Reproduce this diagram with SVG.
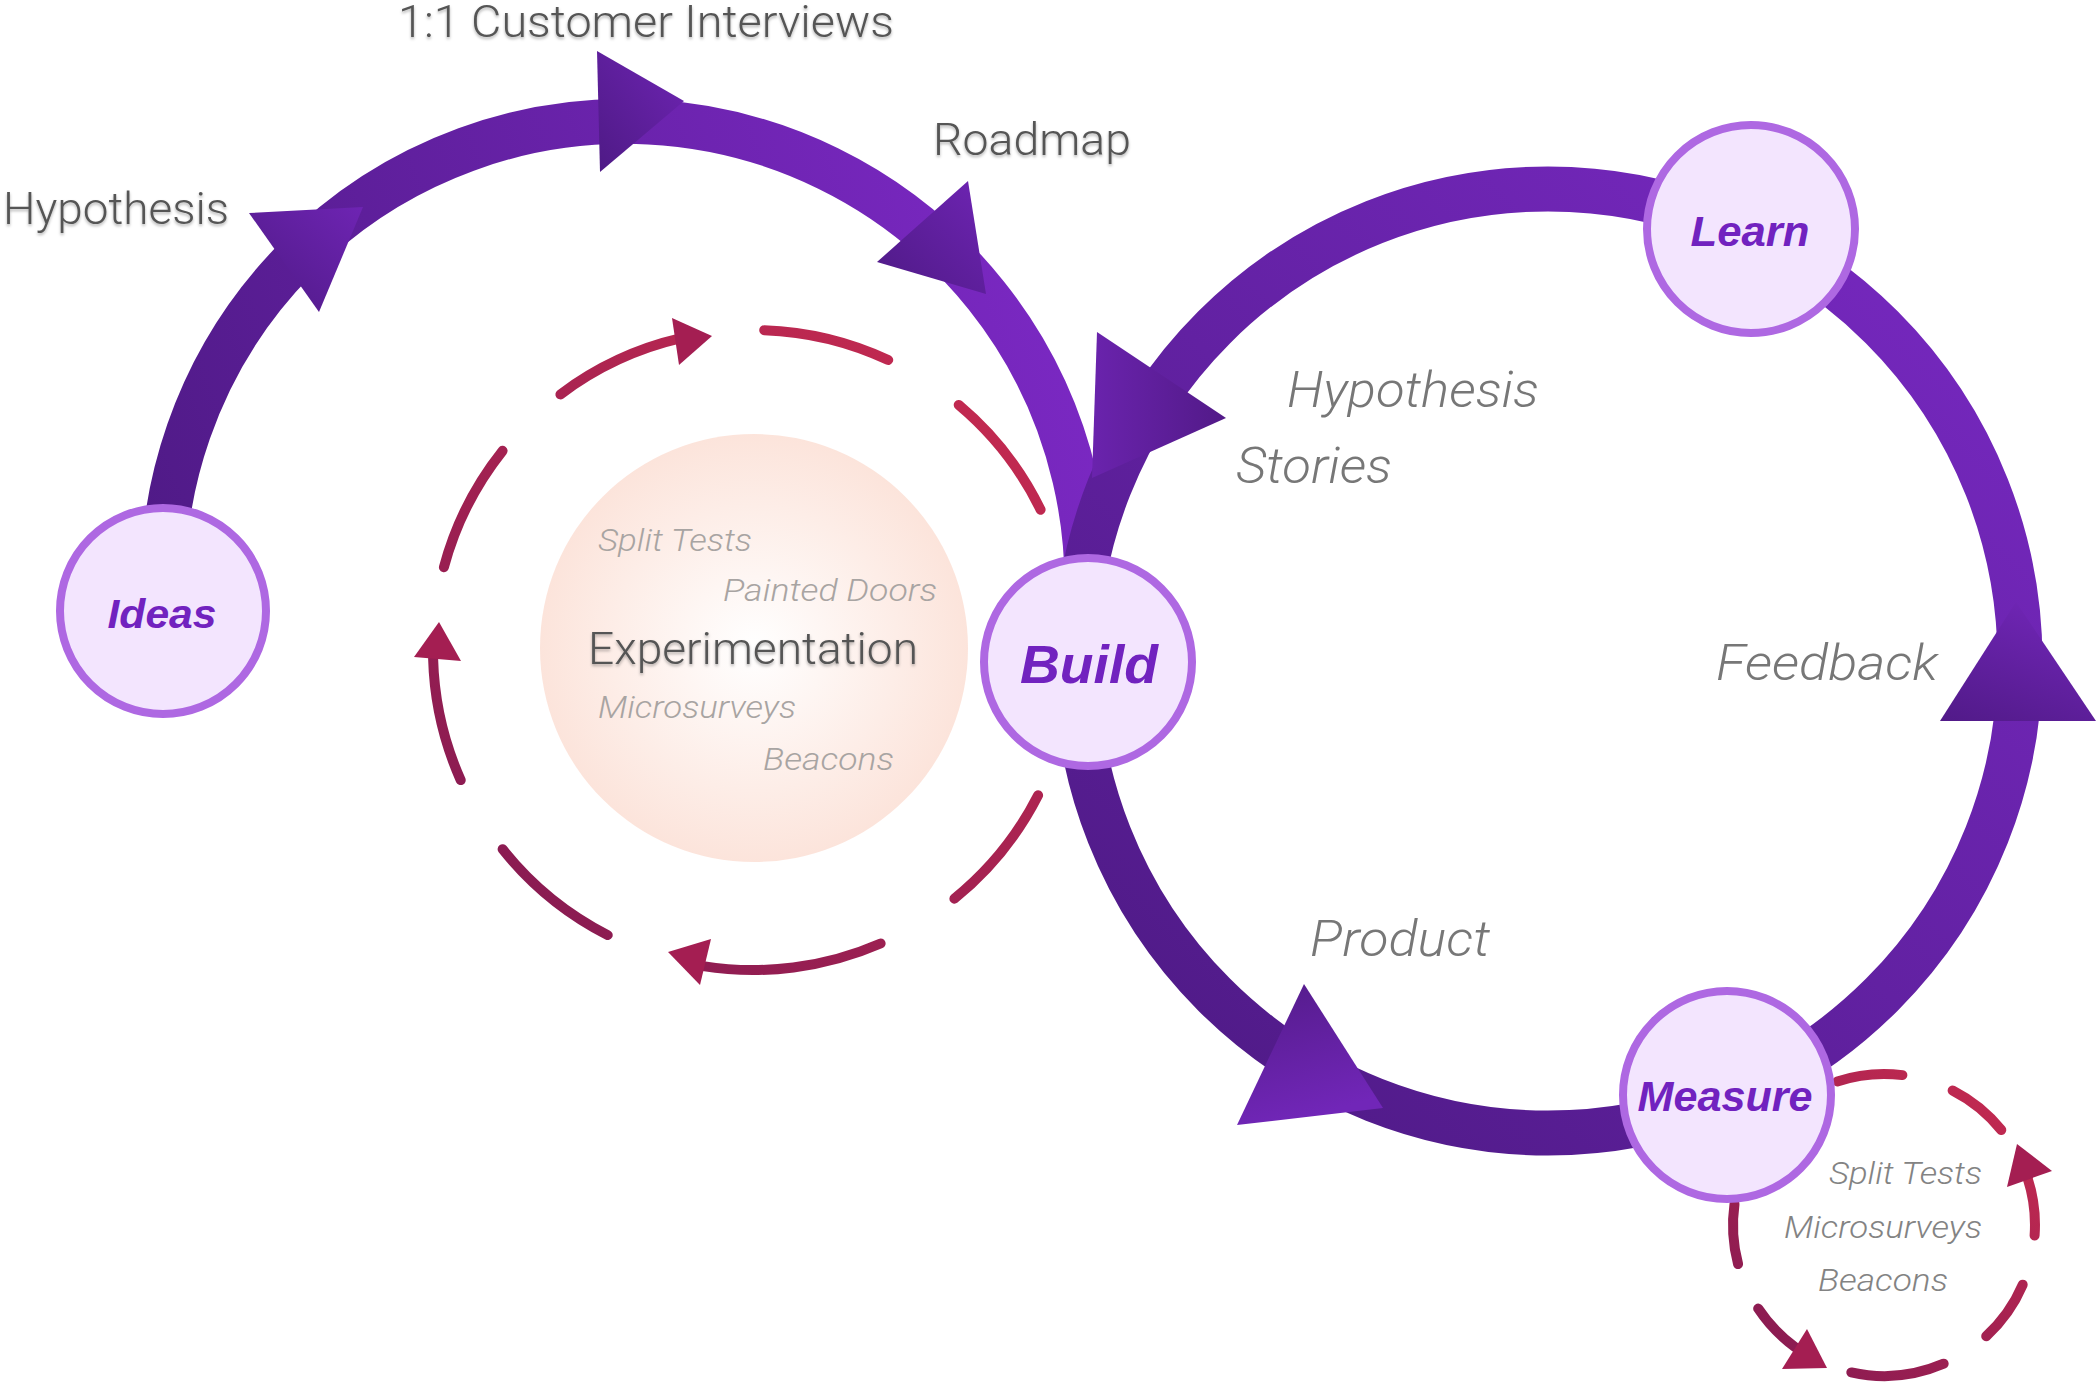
<svg xmlns="http://www.w3.org/2000/svg" width="2098" height="1390" viewBox="0 0 2098 1390">
<defs>
<style>
.lbl{font-family:Roboto,"Liberation Sans",Arial,sans-serif;font-weight:300;fill:#555555;font-size:44px}
.it{font-family:Roboto,"Liberation Sans",Arial,sans-serif;font-weight:300;font-style:italic;fill:#777777;font-size:50px}
.sm{font-family:Roboto,"Liberation Sans",Arial,sans-serif;font-weight:300;font-style:italic;fill:#a8a4a2;font-size:32px}
.sm2{font-family:Roboto,"Liberation Sans",Arial,sans-serif;font-weight:300;font-style:italic;fill:#838383;font-size:32px}
.node circle{fill:#f3e5fe;stroke:#ae68e2;stroke-width:8}
.node text{font-family:"Liberation Sans",Arial,sans-serif;font-weight:bold;font-style:italic;fill:#7122bf;text-anchor:middle}
.dash1{fill:none;stroke:url(#redA);stroke-width:10;stroke-linecap:round}
.dash2{fill:none;stroke:url(#redB);stroke-width:10;stroke-linecap:round}
</style>
<linearGradient id="arcL" gradientUnits="userSpaceOnUse" x1="160" y1="620" x2="1050" y2="300">
<stop offset="0" stop-color="#4f1a86"/><stop offset="1" stop-color="#7a28c2"/>
</linearGradient>
<linearGradient id="arcR" gradientUnits="userSpaceOnUse" x1="1150" y1="1100" x2="1950" y2="250">
<stop offset="0" stop-color="#4e1a85"/><stop offset="1" stop-color="#7628bf"/>
</linearGradient>
<linearGradient id="headA" x1="0" y1="1" x2="1" y2="0">
<stop offset="0" stop-color="#4e1a85"/><stop offset="1" stop-color="#6e24b3"/>
</linearGradient>
<linearGradient id="headB" x1="0" y1="0" x2="1" y2="0">
<stop offset="0" stop-color="#6a23ad"/><stop offset="1" stop-color="#521a88"/>
</linearGradient>
<linearGradient id="headC" x1="0" y1="0" x2="0.3" y2="1">
<stop offset="0" stop-color="#531b89"/><stop offset="1" stop-color="#7126b8"/>
</linearGradient>
<linearGradient id="headD" x1="0.5" y1="0" x2="0" y2="1">
<stop offset="0" stop-color="#6e25b3"/><stop offset="1" stop-color="#511a88"/>
</linearGradient>
<linearGradient id="redA" gradientUnits="userSpaceOnUse" x1="1000" y1="380" x2="480" y2="920">
<stop offset="0" stop-color="#c42a50"/><stop offset="1" stop-color="#861a52"/>
</linearGradient>
<linearGradient id="redB" gradientUnits="userSpaceOnUse" x1="2010" y1="1090" x2="1760" y2="1370">
<stop offset="0" stop-color="#c42a50"/><stop offset="1" stop-color="#861a52"/>
</linearGradient>
<radialGradient id="exp" cx="0.5" cy="0.5" r="0.5">
<stop offset="0" stop-color="#ffffff"/><stop offset="1" stop-color="#fce4db"/>
</radialGradient>
<filter id="sh" x="-5%" y="-30%" width="110%" height="170%">
<feDropShadow dx="0" dy="2" stdDeviation="1.5" flood-color="#000" flood-opacity="0.3"/>
</filter>
</defs>
<rect width="2098" height="1390" fill="#ffffff"/>

<g id="experimentation">
<circle cx="754" cy="648" r="214" fill="url(#exp)"/>
<text class="sm" x="598" y="551" textLength="154" lengthAdjust="spacingAndGlyphs">Split Tests</text>
<text class="sm" x="723" y="601" textLength="214" lengthAdjust="spacingAndGlyphs">Painted Doors</text>
<text class="lbl" x="588" y="664" textLength="330" lengthAdjust="spacingAndGlyphs" filter="url(#sh)">Experimentation</text>
<text class="sm" x="598" y="718" textLength="198" lengthAdjust="spacingAndGlyphs">Microsurveys</text>
<text class="sm" x="763" y="770" textLength="131" lengthAdjust="spacingAndGlyphs">Beacons</text>
</g>

<g id="connectors">
<path d="M 164 615 A 462 462 0 1 1 1080 663" fill="none" stroke="url(#arcL)" stroke-width="45"/>
<circle cx="1548" cy="661" r="472" fill="none" stroke="url(#arcR)" stroke-width="45"/>
<polygon points="249,213 363,207 319,312" fill="url(#headA)"/>
<polygon points="597,51 684,101 600,172" fill="url(#headA)"/>
<polygon points="968,181 877,262 986,294" fill="url(#headA)"/>
<polygon points="1097,332 1226,418 1092,478" fill="url(#headB)"/>
<polygon points="1304,984 1383,1108 1237,1125" fill="url(#headC)"/>
<polygon points="2016,602 2096,721 1940,721" fill="url(#headD)"/>

<path class="dash1" d="M 560.4 394.4 A 320 320 0 0 1 681 338.2"/>
<polygon points="712,336 672,318 679,365" fill="#a41e52"/>
<path class="dash1" d="M 764.2 330.2 A 320 320 0 0 1 888.2 360"/>
<path class="dash1" d="M 958.7 404.9 A 320 320 0 0 1 1040.6 509.7"/>
<path class="dash1" d="M 1038.1 795.3 A 320 320 0 0 1 954.4 898.7"/>
<path class="dash1" d="M 880.6 943.5 A 320 320 0 0 1 703 966.1"/>
<polygon points="668,952 711,939 700,985" fill="#a41e52"/>
<path class="dash1" d="M 607.7 935.1 A 320 320 0 0 1 502.6 849.2"/>
<path class="dash1" d="M 460.7 780.1 A 320 320 0 0 1 433.1 658.4"/>
<polygon points="439,622 414,657 461,661" fill="#a41e52"/>
<path class="dash1" d="M 443.9 567.2 A 320 320 0 0 1 502.6 450.8"/>

<path class="dash2" d="M 1837.3 1081.4 A 151 151 0 0 1 1902.4 1075.1"/>
<path class="dash2" d="M 1952.6 1090.5 A 151 151 0 0 1 2001.3 1130"/>
<path class="dash2" d="M 2034.6 1235.5 A 151 151 0 0 0 2027.6 1178.3"/>
<polygon points="2017,1144 2052,1171 2007,1187" fill="#a41e52"/>
<path class="dash2" d="M 2022.7 1284.7 A 151 151 0 0 1 1986.2 1336.2"/>
<path class="dash2" d="M 1943.7 1363.7 A 151 151 0 0 1 1851.3 1372.4"/>
<path class="dash2" d="M 1758.2 1308.6 A 151 151 0 0 0 1795.2 1347.2"/>
<polygon points="1827,1368 1807,1329 1782,1369" fill="#a41e52"/>
<path class="dash2" d="M 1738.1 1264.1 A 151 151 0 0 1 1734.5 1204"/>
</g>

<g id="labels">
<text class="lbl" x="398" y="37" textLength="496" lengthAdjust="spacingAndGlyphs" filter="url(#sh)">1:1 Customer Interviews</text>
<text class="lbl" x="3" y="224" textLength="226" lengthAdjust="spacingAndGlyphs" filter="url(#sh)">Hypothesis</text>
<text class="lbl" x="933" y="155" textLength="198" lengthAdjust="spacingAndGlyphs" filter="url(#sh)">Roadmap</text>
<text class="it" x="1287" y="407" textLength="252" lengthAdjust="spacingAndGlyphs">Hypothesis</text>
<text class="it" x="1236" y="483" textLength="156" lengthAdjust="spacingAndGlyphs">Stories</text>
<text class="it" x="1716" y="680" textLength="222" lengthAdjust="spacingAndGlyphs">Feedback</text>
<text class="it" x="1310" y="956" textLength="180" lengthAdjust="spacingAndGlyphs">Product</text>
<text class="sm2" x="1829" y="1184" textLength="153" lengthAdjust="spacingAndGlyphs">Split Tests</text>
<text class="sm2" x="1784" y="1238" textLength="198" lengthAdjust="spacingAndGlyphs">Microsurveys</text>
<text class="sm2" x="1818" y="1291" textLength="130" lengthAdjust="spacingAndGlyphs">Beacons</text>
</g>

<g id="ideas" class="node">
<circle cx="163" cy="611" r="103"/>
<text x="162" y="628" font-size="40" textLength="109" lengthAdjust="spacingAndGlyphs">Ideas</text>
</g>
<g id="build" class="node">
<circle cx="1088" cy="662" r="104"/>
<text x="1089" y="683" font-size="54" textLength="138" lengthAdjust="spacingAndGlyphs">Build</text>
</g>
<g id="learn" class="node">
<circle cx="1751" cy="229" r="104"/>
<text x="1750" y="246" font-size="42" textLength="119" lengthAdjust="spacingAndGlyphs">Learn</text>
</g>
<g id="measure" class="node">
<circle cx="1727" cy="1095" r="104"/>
<text x="1725" y="1111" font-size="42" textLength="175" lengthAdjust="spacingAndGlyphs">Measure</text>
</g>
</svg>
